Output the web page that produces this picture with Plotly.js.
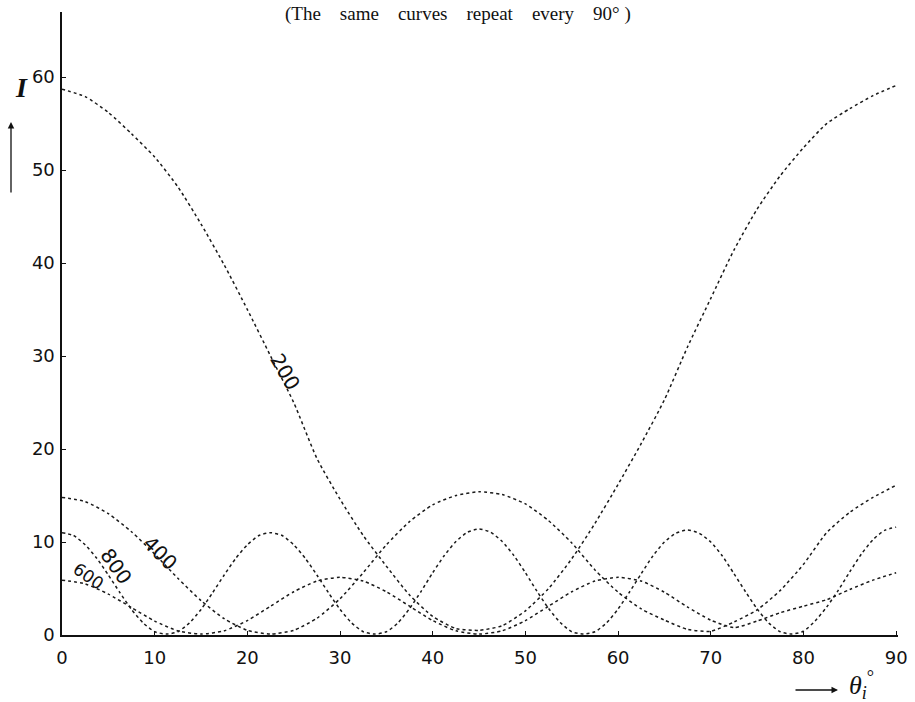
<!DOCTYPE html>
<html>
<head>
<meta charset="utf-8">
<script src="https://cdn.plot.ly/plotly-3.0.1.min.js"></script>
<style>html,body{margin:0;padding:0;background:#fff;}#chart{width:915px;height:702px;}</style>
</head>
<body>
<div id="chart"></div>
<script>
// Angle grid (degrees)
const theta = [0,2.5,5,7.5,10,12.5,15,17.5,20,22.5,25,27.5,30,32.5,35,37.5,40,42.5,45,47.5,50,52.5,55,57.5,60,62.5,65,67.5,70,72.5,75,77.5,80,82.5,85,87.5,90];
const thetaFine = [0,1.25,2.5,3.75,5,6.25,7.5,8.75,10,11.25,12.5,13.75,15,16.25,17.5,18.75,20,21.25,22.5,23.75,25,26.25,27.5,28.75,30,31.25,32.5,33.75,35,36.25,37.5,38.75,40,41.25,42.5,43.75,45,46.25,47.5,48.75,50,51.25,52.5,53.75,55,56.25,57.5,58.75,60,61.25,62.5,63.75,65,66.25,67.5,68.75,70,71.25,72.5,73.75,75,76.25,77.5,78.75,80,81.25,82.5,83.75,85,86.25,87.5,88.75,90];

// Intensity I for each reflection
const I200 = [58.7,57.9,56.2,53.9,51.4,48.2,44.2,39.8,35.0,30.0,25.0,19.0,14.6,10.7,7.4,4.3,2.0,0.7,0.5,1.0,2.6,5.0,8.2,12.0,16.2,20.6,25.3,31.0,36.2,41.4,45.8,49.4,52.4,55.0,56.6,58.0,59.1];
const I400 = [14.8,14.35,13.05,11.1,8.7,6.1,3.7,1.75,0.5,0.1,0.5,1.8,3.9,6.7,9.7,12.2,14.0,15.0,15.4,15.1,14.1,12.3,9.9,7.0,4.6,2.8,1.6,0.6,0.4,1.4,2.7,4.8,7.6,11.0,13.2,14.8,16.1];
const I600 = [5.9,5.5,4.4,2.95,1.5,0.45,0.1,0.45,1.55,3.1,4.65,5.8,6.2,5.8,4.65,3.1,1.55,0.45,0.1,0.45,1.55,3.1,4.65,5.8,6.2,5.8,4.6,3.0,1.6,0.8,1.5,2.4,3.1,3.8,4.9,5.9,6.7];
const I800 = [11.0,10.7,9.7,8.25,6.45,4.55,2.75,1.3,0.35,0.1,0.35,1.3,2.75,4.55,6.45,8.25,9.7,10.7,11.0,10.7,9.7,8.25,6.45,4.55,2.75,1.3,0.35,0.1,0.35,1.3,2.85,4.7,6.7,8.55,10.05,11.05,11.4,11.05,10.05,8.55,6.7,4.7,2.85,1.35,0.35,0.1,0.35,1.3,2.8,4.65,6.6,8.5,10.0,10.95,11.3,10.95,10.0,8.5,6.6,4.65,2.8,1.3,0.35,0.1,0.4,1.5,3.0,4.8,6.8,8.7,10.25,11.25,11.6];

const curveLabels = ["200","400","600","800"];
const xTicks = [0,10,20,30,40,50,60,70,80,90];
const yTicks = [0,10,20,30,40,50,60];

const lineStyle = {color:'#1a1a1a', width:1.5, dash:'3px,3px', shape:'spline', smoothing:0.6};
const traces = [
  {x:theta, y:I200, name:curveLabels[0]},
  {x:theta, y:I400, name:curveLabels[1]},
  {x:theta, y:I600, name:curveLabels[2]},
  {x:thetaFine, y:I800, name:curveLabels[3]}
].map(t => Object.assign(t, {type:'scatter', mode:'lines', line:lineStyle, hoverinfo:'skip'}));

const labFont = {family:'DejaVu Sans, sans-serif', size:20, color:'#111'};
const sp = '&nbsp;&nbsp;&nbsp;&nbsp;';

const layout = {
  width:915, height:702,
  margin:{l:62, r:17, t:12, b:67},
  paper_bgcolor:'#fff', plot_bgcolor:'#fff',
  showlegend:false,
  xaxis:{range:[0,90.2], tickvals:xTicks, ticktext:xTicks.map(String), showgrid:false, zeroline:false,
         showline:true, linecolor:'#111', linewidth:2, ticks:'inside', ticklen:4, tickcolor:'#111',
         ticklabelstandoff:5,
         tickfont:{family:'DejaVu Sans, sans-serif', size:18, color:'#111'}, fixedrange:true},
  yaxis:{range:[0,67], tickvals:yTicks, ticktext:yTicks.map(String), showgrid:false, zeroline:false,
         showline:true, linecolor:'#111', linewidth:1.6, ticks:'inside', ticklen:4, tickcolor:'#111',
         ticklabelstandoff:2,
         tickfont:{family:'DejaVu Sans, sans-serif', size:18, color:'#111'}, fixedrange:true},
  annotations:[
    {xref:'paper', yref:'paper', x:(458-62)/836, y:1-(14-12)/623, yanchor:'middle', showarrow:false,
     text:'(The'+sp+'same'+sp+'curves'+sp+'repeat'+sp+'every'+sp+'90°&nbsp;)',
     font:{family:'Liberation Serif, serif', size:19, color:'#111'}},
    {xref:'paper', yref:'paper', x:(13-62)/836, y:1-(70-12)/623, showarrow:false,
     text:'<b><i>I</i></b>', font:{family:'Liberation Serif, serif', size:28, color:'#111'}},
    {xref:'paper', yref:'paper', x:(11-62)/836, y:1-(122-12)/623, ax:0, ay:72, text:'',
     showarrow:true, arrowhead:2, arrowsize:1, arrowwidth:1.3, arrowcolor:'#111'},
    {xref:'paper', yref:'paper', x:(838-62)/836, y:1-(690-12)/623, ax:-44, ay:0, text:'',
     showarrow:true, arrowhead:2, arrowsize:1, arrowwidth:1.3, arrowcolor:'#111'},
    {xref:'paper', yref:'paper', x:(876-62)/836, y:1-(705-12)/623, showarrow:false,
     text:'<i>θ<sub>i</sub></i><sup>°</sup>', font:{family:'Liberation Serif, serif', size:26, color:'#111'}},
    {x:24.1, y:28.3, text:curveLabels[0], textangle:60, showarrow:false, font:labFont},
    {x:10.6, y:8.8, text:curveLabels[1], textangle:45, showarrow:false, font:labFont},
    {x:2.8, y:6.3, text:curveLabels[2], textangle:35, showarrow:false, font:{family:'DejaVu Sans, sans-serif', size:17, color:'#111'}},
    {x:5.8, y:7.4, text:curveLabels[3], textangle:55, showarrow:false, font:labFont}
  ]
};

Plotly.newPlot('chart', traces, layout, {staticPlot:true, displayModeBar:false});
</script>
</body>
</html>
